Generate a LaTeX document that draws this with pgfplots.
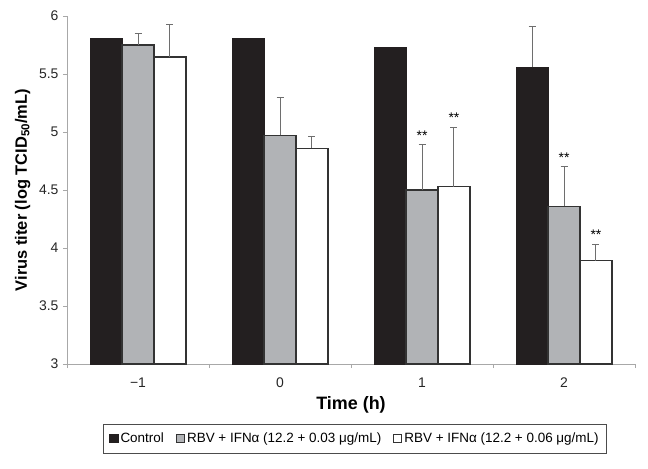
\documentclass[border=0pt]{standalone}
\usepackage{fontspec}
\setmainfont{Liberation Sans}
\usepackage{pgfplots}
\pgfplotsset{compat=1.18}
\definecolor{cblack}{HTML}{231F20}
\definecolor{cgray}{HTML}{B1B3B6}
\definecolor{cedge}{HTML}{333333}
\definecolor{cerr}{HTML}{6E6E6E}
\definecolor{caxis}{HTML}{A8A8A8}
\begin{document}
\begin{tikzpicture}
\begin{axis}[
  scale only axis,
  width=568bp, height=348bp,
  xmin=-0.5, xmax=3.5,
  ymin=3, ymax=6,
  ytick={3,3.5,4,4.5,5,5.5,6},
  xtick={0,1,2,3},
  xticklabels={−1,0,1,2},
  minor xtick={-0.5,0.5,1.5,2.5,3.5},
  major x tick style={draw=none},
  minor x tick style={draw=caxis},
  y tick style={draw=caxis},
  minor tick length=4bp,
  major tick length=4bp,
  tick align=outside,
  axis x line*=bottom,
  axis y line*=left,
  axis line style={-, draw=caxis, line width=0.8bp},
  /pgf/number format/assume math mode=true,
  ticklabel style={font=\fontsize{14}{16}\selectfont, text=black!85},
  xticklabel style={yshift=-6bp},
  yticklabel style={xshift=-1bp},
  xlabel={\textbf{Time (h)}},
  xlabel style={font=\fontsize{18}{20}\selectfont, yshift=-2bp},
  ylabel={\textbf{Virus titer (log TCID\textsubscript{50}/mL)}},
  ylabel style={font=\fontsize{16.5}{18}\selectfont, yshift=2bp},
  ybar=0pt,
  bar width=0.225,
  error bars/y dir=plus,
  error bars/y explicit,
  error bars/error bar style={draw=cerr, line width=1bp},
  error bars/error mark options={rotate=90, mark size=3.5bp, draw=cerr, line width=1bp},
  legend style={
    at={(0.507,-0.172)}, anchor=north,
    legend columns=3,
    draw=black!70, line width=0.8bp,
    font=\fontsize{13.5}{16}\selectfont,
    inner xsep=6bp, inner ysep=7bp,
    /tikz/every even column/.append style={column sep=10bp},
  },
  legend image code/.code={\draw[#1, line width=1.2bp] (0bp,-4bp) rectangle (8bp,4bp);},
  legend cell align=left,
  clip=false,
]
\addplot[fill=cblack, draw=cblack, line width=1bp, bar shift=-0.225, error bars/y dir=none] coordinates {
  (0,5.81)
  (1,5.81)
  (2,5.73)
  (3,5.56)
};
\addplot[fill=cgray, draw=cedge, line width=1.4bp, bar shift=0] coordinates {
  (0,5.75) +- (0,0.10)
  (1,4.97) +- (0,0.33)
  (2,4.50) +- (0,0.39)
  (3,4.36) +- (0,0.34)
};
\addplot[fill=white, draw=cedge, line width=1.4bp, bar shift=0.225] coordinates {
  (0,5.645) +- (0,0.285)
  (1,4.86) +- (0,0.10)
  (2,4.53) +- (0,0.51)
  (3,3.89) +- (0,0.14)
};
\addplot[draw=none, fill=none, bar shift=-0.225, forget plot] coordinates {
  (3,5.56) +- (0,0.35)
};
\legend{Control, RBV + IFNα (12.2 + 0.03 μg/mL), RBV + IFNα (12.2 + 0.06 μg/mL)}
\node[font=\fontsize{14}{16}\selectfont, anchor=south] at (axis cs:2,4.90) {**};
\node[font=\fontsize{14}{16}\selectfont, anchor=south] at (axis cs:2.225,5.05) {**};
\node[font=\fontsize{14}{16}\selectfont, anchor=south] at (axis cs:3,4.71) {**};
\node[font=\fontsize{14}{16}\selectfont, anchor=south] at (axis cs:3.225,4.04) {**};
\end{axis}
\path (0,0) ++(-67bp,-105bp) rectangle ++(648bp,469bp);
\end{tikzpicture}
\end{document}
